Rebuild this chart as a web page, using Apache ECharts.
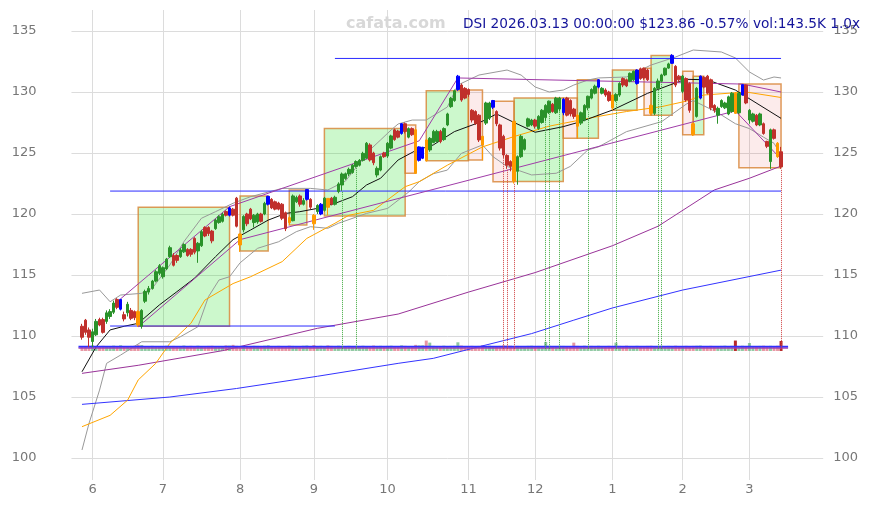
<!DOCTYPE html>
<html><head><meta charset="utf-8">
<script src="https://cdn.jsdelivr.net/npm/echarts@6/dist/echarts.min.js"></script>
<style>html,body{margin:0;padding:0;background:#fff}#c{width:873px;height:505px}</style>
</head><body><div id="c"></div>
<script>
// ---------- categories ----------
const startDate = '2025-05-28', endDate = '2026-03-13';
const holidays = ['2025-06-19','2025-07-04','2025-09-01','2025-11-27','2025-12-25','2026-01-01','2026-01-19','2026-02-16'];
const PAD_L = 3, PAD_R = 12;

// ---------- candles (index 0 = 2025-05-28) ----------
const opens = [
110.8,111.3,110.5,109.55,110.1,111.35,111.35,111.2,111.6,111.95,
113.0,112.2,111.75,111.9,112.1,112.0,112.0,110.8,112.85,113.6,
113.9,114.5,115.14,114.86,115.5,116.5,116.6,116.6,116.5,116.9,
117.1,117.1,118.0,116.97,117.4,118.9,118.9,118.6,118.8,119.3,
119.4,120.2,119.9,120.4,121.3,118.36,118.7,120.0,120.4,119.3,
119.35,120.0,120.0,120.8,121.2,121.0,120.9,120.8,120.1,119.7,
119.45,121.0,121.48,120.8,121.2,121.2,119.9,120.2,120.0,120.3,
121.28,121.3,120.8,121.84,122.38,122.9,123.28,123.4,123.9,124.0,
124.4,124.57,125.66,125.0,123.2,123.6,125.0,124.75,125.4,126.9,
126.8,126.6,127.4,126.3,127.0,126.9,124.4,124.57,126.07,125.25,
125.86,125.95,126.77,126.1,127.3,128.8,129.3,130.2,130.57,130.3,
130.2,128.5,128.4,128.1,126.37,127.45,127.86,128.75,128.4,127.3,
126.37,124.8,124.3,127.6,123.5,124.7,125.3,127.2,127.3,127.7,
127.0,127.5,127.9,128.3,129.0,128.3,128.6,128.3,129.5,129.3,
128.6,128.1,127.45,127.7,128.7,129.5,129.9,130.4,129.9,130.16,
130.0,129.75,129.3,129.75,131.1,131.0,130.88,131.0,130.7,131.9,
131.95,131.8,128.9,128.25,130.3,130.88,131.4,131.96,132.35,132.1,
131.3,130.05,131.1,130.7,127.4,128.0,129.5,131.2,131.3,131.0,
128.9,128.1,128.8,128.7,128.2,128.4,129.9,128.3,129.75,130.57,
127.7,127.6,128.1,127.3,127.4,125.95,124.3,126.9,125.8,125.1];
const closes = [
109.9,110.3,109.9,110.35,111.2,110.9,110.3,111.9,112.0,112.7,
112.35,113.0,111.4,112.6,111.45,111.5,110.9,112.1,113.65,113.9,
114.5,115.27,115.76,115.6,116.3,117.24,115.8,116.2,117.05,117.5,
116.6,116.7,116.87,117.6,118.55,118.2,118.4,117.8,119.5,119.78,
119.97,119.9,120.5,119.9,119.0,117.46,119.8,119.2,119.6,119.9,
120.0,119.4,120.87,121.45,120.5,120.4,120.4,119.65,118.8,119.3,
121.48,121.35,120.8,121.1,122.0,120.56,119.2,120.7,120.8,121.3,
120.55,120.8,121.37,122.46,123.28,123.3,123.66,124.0,124.3,124.4,
124.97,125.8,124.43,124.2,123.74,124.7,124.7,125.8,126.4,126.1,
126.3,127.4,126.76,127.0,126.5,123.34,125.5,125.47,124.37,126.2,
126.77,126.77,125.95,127.0,128.2,129.48,130.1,131.3,129.34,129.5,
129.8,127.7,127.4,126.07,125.66,129.1,129.1,129.3,127.4,125.4,
124.84,124.0,123.9,122.7,124.7,126.37,126.1,127.8,127.7,127.2,
128.0,128.5,128.9,129.25,128.4,129.5,129.5,129.4,128.1,128.2,
128.0,127.2,128.3,128.9,129.65,130.2,130.47,131.0,130.3,129.75,
129.3,128.7,129.8,130.7,130.57,130.5,131.53,131.7,131.8,131.1,
131.15,131.0,128.25,130.3,130.9,131.4,131.95,132.3,133.0,130.57,
131.0,131.3,129.34,128.5,126.5,130.3,131.3,130.4,129.9,128.7,
128.5,128.66,129.3,129.1,129.6,129.9,128.25,129.9,130.6,129.1,
128.5,128.2,127.3,128.2,126.6,125.55,126.9,126.2,124.7,123.86];
const highs = [
111.0,111.4,110.7,110.6,111.4,111.5,111.5,112.1,112.2,112.9,
113.1,113.05,112.0,112.8,112.3,112.1,112.1,112.2,113.8,114.1,
114.6,115.4,115.9,115.7,116.4,117.4,116.8,116.7,117.2,117.6,
117.2,117.2,118.1,117.7,118.7,119.0,119.0,118.7,119.6,119.9,
120.1,120.3,120.6,120.5,121.4,118.4,119.9,120.1,120.5,120.0,
120.1,120.1,121.0,121.5,121.3,121.1,121.0,120.9,120.2,119.8,
121.6,121.5,121.6,121.3,122.05,121.3,120.0,120.8,120.9,121.4,
121.3,121.4,121.5,122.6,123.4,123.4,123.8,124.1,124.4,124.5,
125.1,125.9,125.8,125.1,123.9,124.8,125.1,125.9,126.5,127.0,
126.9,127.45,127.5,127.1,127.1,127.0,125.55,125.5,126.1,126.3,
126.9,126.9,126.9,127.1,128.3,129.6,130.2,131.4,130.7,130.4,
130.3,128.6,128.5,128.2,126.4,129.2,129.2,129.35,128.5,127.4,
126.5,124.9,124.4,127.6,124.8,126.5,126.2,127.9,127.8,127.8,
128.1,128.6,129.0,129.3,129.1,129.6,129.6,129.5,129.6,129.4,
128.7,128.2,128.4,129.0,129.7,130.3,130.6,131.05,130.4,130.3,
130.1,129.8,129.9,130.8,131.2,131.1,131.6,131.75,131.85,132.0,
132.0,131.9,129.0,130.4,131.1,131.5,132.0,132.4,133.1,132.2,
131.4,131.4,131.2,130.8,127.5,130.4,131.35,131.3,131.4,131.1,
129.0,128.8,129.4,129.2,129.7,130.0,130.0,130.0,130.65,130.6,
128.6,128.3,128.2,128.3,127.5,126.0,127.0,127.0,125.9,125.5];
const lows = [
109.7,110.1,109.1,109.1,110.0,110.8,110.2,111.0,111.4,111.8,
112.2,112.1,111.2,111.6,111.3,111.3,110.75,110.6,112.7,113.4,
113.8,114.4,115.0,114.7,115.4,116.4,115.7,116.0,116.4,116.8,
116.5,116.5,116.7,116.0,117.3,118.1,118.2,117.6,118.7,119.2,
119.3,119.8,119.8,119.8,118.9,116.9,118.5,119.0,119.5,118.9,
119.2,119.3,119.9,120.7,120.4,120.3,120.3,119.5,118.6,119.1,
119.4,120.9,120.6,120.7,121.1,120.4,118.7,120.0,119.9,120.2,
119.9,120.7,120.7,121.7,121.9,122.8,123.1,123.3,123.8,123.9,
124.3,124.5,124.3,124.0,123.0,123.5,124.6,124.6,125.3,126.0,
126.2,126.5,126.6,126.2,126.4,123.3,124.3,124.5,124.3,125.1,
125.8,125.9,125.8,126.0,127.2,128.7,129.2,130.1,129.2,129.4,
129.6,127.5,127.3,125.9,124.4,127.3,127.7,128.6,127.2,125.2,
124.6,123.7,123.5,122.5,122.4,124.6,125.2,127.1,127.2,127.0,
126.9,127.4,127.6,128.2,128.3,128.2,128.4,128.1,128.0,128.0,
127.8,126.2,127.3,127.6,128.5,129.4,129.8,130.3,129.8,129.6,
129.2,128.5,129.2,129.6,130.4,130.4,130.8,130.9,130.6,131.0,
131.0,130.9,128.1,128.1,130.2,130.8,131.3,131.9,132.3,130.4,
130.8,129.9,129.2,128.3,126.4,127.9,129.4,130.3,129.8,128.5,
128.3,127.4,128.7,128.6,128.1,128.3,128.2,128.2,129.7,129.0,
127.4,127.5,127.2,127.2,126.5,125.4,123.7,126.1,124.6,123.7];
const volumes = [
72,68,75,80,66,70,74,69,71,77, 65,82,70,68,73,76,90,85,72,70,
74,69,71,68,75,70,73,66,72,78, 70,74,69,76,71,68,73,75,70,72,
69,80,77,88,74,70,72,68,71,75, 73,70,76,82,69,71,74,72,70,77,
73,68,71,75,79,72,84,70,74,69, 80,73,71,76,70,72,74,68,73,71,
75,70,72,78,69,74,71,73,76,70, 72,81,74,71,69,88,80,82,150,120,
74,70,72,76,71,73,75,125,78,72, 70,74,69,73,80,71,76,72,70,74,
82,78,75,71,73,69,72,74,76,70, 73,71,130,75,72,70,74,73,71,69,
120,74,72,76,70,73,71,75,72,70, 74,72,120,73,71,76,70,72,74,71,
69,73,75,72,70,74,71,73,72,76, 70,72,74,71,73,75,78,72,70,74,
72,71,73,76,70,74,150,72,75,71, 115,72,71,73,76,70,74,72,75,143.5];
const volStrong = [186, 199];
const blueIdx = [11,42,53,64,68,91,96,97,107,117,137,147,158,168,176,188];
const orangeIdx = [16,45,59,66,70,95,98,114,123,141,151,162,174,186,198];

// ---------- boxes: [startIdx, endIdx, low, high, kind] ----------
const boxes = [
[16,42,110.8,120.55,'g'],[45,53,116.97,121.47,'g'],[59,64,119.1,121.97,'g'],
[69,92,119.84,127.0,'g'],[92,95,123.34,127.3,'r'],[98,110,124.37,130.1,'g'],
[110,114,124.43,130.16,'r'],[117,123,122.65,129.25,'r'],[123,137,122.67,129.5,'g'],
[137,141,126.2,129.5,'r'],[141,147,126.2,131.0,'g'],[151,158,128.5,131.8,'g'],
[160,162,128.1,131.95,'r'],[162,168,128.1,133.0,'g'],[171,174,126.5,131.7,'r'],
[174,177,126.5,131.3,'g'],[187,199,123.8,130.65,'r']];

// ---------- horizontal levels: [fromIdx, toIdx, value] ----------
const blueLevels = [[72,199,132.75],[8,199,121.88],[8,72,110.82]];
const baseBlue = [-1,201,109.12];
const basePurple = [-1,201,109.0];

// ---------- purple pivot lines ----------
const upperPivots = [[11,113.05],[42,120.6],[96,126.0],[107,131.15],[188,130.65],[199,130.0]];
const lowerPivots = [[16,110.75],[45,117.9],[186,128.45],[199,124.5]];

// ---------- dotted signal lines ----------
const dotBase = 108.95;
const greenDots = [74,78,132,133,136,144,152,164,165];
const redDots = [120,121,123,199];

// ---------- moving averages / bands (read at sample days) ----------
const ma20 = [[0,107.07],[4,109.1],[8,110.5],[12,110.8],[16,111.04],[22,112.54],[27,113.63],[32,114.73],[38,116.5],[43,117.9],[48,118.69],[53,119.5],[58,120.05],[62,120.19],[67,120.46],[72,120.87],[77,121.42],[81,122.38],[85,122.93],[90,124.43],[95,125.2],[100,125.66],[106,126.75],[114,127.6],[118,128.2],[123,127.5],[129,126.7],[137,127.16],[142,127.57],[151,128.52],[161,129.89],[170,130.86],[172,131.04],[178,131.0],[186,130.16],[199,127.84]];
const ma50 = [[0,102.57],[8,103.5],[13,104.75],[16,106.4],[21,107.76],[25,109.4],[31,111.04],[35,112.95],[43,114.3],[48,114.86],[57,116.1],[64,118.0],[72,119.24],[76,119.9],[83,120.3],[92,122.24],[96,122.65],[104,124.0],[114,125.5],[123,126.35],[133,127.2],[147,128.0],[155,128.4],[165,128.8],[172,129.25],[177,129.75],[189,130.0],[199,129.55]];
const maLong = [[0,106.94],[16,107.6],[40,108.8],[67,110.63],[90,111.8],[110,113.6],[129,115.2],[151,117.4],[164,119.0],[180,121.97],[190,122.93],[199,123.93]];
const maLonger = [[0,104.4],[25,105.0],[44,105.7],[67,106.7],[90,107.76],[100,108.17],[113,109.12],[128,110.2],[140,111.3],[151,112.3],[171,113.77],[199,115.4]];
const bbUpper = [[0,113.5],[5,113.77],[8,112.81],[11,113.36],[17,113.5],[20,113.91],[25,115.82],[29,117.73],[34,119.65],[38,120.19],[43,120.88],[48,121.42],[57,122.1],[65,122.1],[70,121.97],[75,122.7],[78,123.8],[81,125.0],[85,126.07],[88,126.89],[90,127.38],[94,127.7],[98,127.7],[104,128.77],[107,130.57],[113,131.39],[121,131.8],[125,131.39],[129,130.41],[133,130.0],[137,130.16],[140,130.57],[144,130.98],[147,131.15],[155,131.23],[162,132.21],[169,132.87],[174,133.44],[182,133.28],[186,132.79],[190,131.64],[194,130.98],[197,131.23],[199,131.15]];
const bbLower = [[0,100.66],[2,102.84],[5,105.57],[7,107.76],[11,108.44],[17,109.53],[25,109.53],[28,109.94],[33,110.76],[36,113.22],[39,114.59],[42,114.86],[45,116.0],[50,117.19],[56,117.73],[61,118.55],[65,118.96],[70,118.83],[73,119.24],[81,120.05],[87,120.46],[93,121.8],[96,122.65],[100,123.3],[104,123.6],[108,124.97],[114,125.66],[117,124.7],[121,123.9],[128,123.2],[135,123.34],[139,123.9],[144,125.25],[147,125.5],[155,126.75],[165,127.57],[172,129.0],[174,129.3],[181,128.3],[186,127.4],[190,127.0],[194,126.3],[197,125.8],[199,124.84]];

const yTicks = [100,105,110,115,120,125,130,135];
const TITLE = 'DSI 2026.03.13 00:00:00 $123.86 -0.57% vol:143.5K 1.0x';

// ---------- build ----------
function tradingDays(s, e) {
  const out = [], hs = new Set(holidays);
  let d = new Date(s + 'T00:00:00Z'); const end = new Date(e + 'T00:00:00Z');
  while (d <= end) {
    const wd = d.getUTCDay(), iso = d.toISOString().slice(0, 10);
    if (wd !== 0 && wd !== 6 && !hs.has(iso)) out.push(iso);
    d = new Date(d.getTime() + 86400000);
  }
  return out;
}
const dates = tradingDays(startDate, endDate);
const cats = [];
for (let i = 0; i < PAD_L; i++) cats.push('pL' + i);
dates.forEach(d => cats.push(d));
for (let i = 0; i < PAD_R; i++) cats.push('pR' + i);
const X = i => i + PAD_L;
const monthStart = new Set();
dates.forEach((d, i) => { if (i > 0 && d.slice(5, 7) !== dates[i - 1].slice(5, 7)) monthStart.add(X(i)); });

const UP = '#2a922a', DOWN = '#c0302c', BLUE = '#0000ff', ORANGE = '#ff9a00';
const candleData = [], volData = [];
for (let k = 0; k < cats.length; k++) {
  const i = k - PAD_L;
  if (i < 0 || i >= opens.length) { candleData.push('-'); volData.push('-'); continue; }
  const it = { value: [opens[i], closes[i], lows[i], highs[i]] };
  const sc = blueIdx.includes(i) ? BLUE : (orangeIdx.includes(i) ? ORANGE : null);
  if (sc) it.itemStyle = { color: sc, color0: sc, borderColor: sc, borderColor0: sc };
  candleData.push(it);
  const up = closes[i] >= opens[i];
  const strong = volStrong.includes(i);
  volData.push({ value: volumes[i], itemStyle: { color: strong ? (up ? '#2e8b2e' : '#b82828') : (up ? 'rgba(70,165,100,0.6)' : 'rgba(215,80,100,0.6)') } });
}
const pts = a => a.map(([i, v]) => [X(i), v]);
function lineS(data, color, width, z) {
  return { type: 'line', data, symbol: 'none', showSymbol: false, silent: true, z: z || 3,
    lineStyle: { color, width: width || 1 }, emphasis: { disabled: true }, animation: false };
}
const series = [];
// boxes
series.push({ type: 'line', data: [], z: 1, silent: true,
  markArea: { silent: true, data: boxes.map(([a, b, lo, hi, t]) => [
    { coord: [X(a), hi], itemStyle: { color: t === 'g' ? 'rgba(0,220,0,0.2)' : 'rgba(220,0,0,0.08)', borderColor: 'rgba(215,130,50,0.8)', borderWidth: 1.5 } },
    { coord: [X(b), lo] }]) } });
// dotted signals
series.push({ type: 'line', data: [], z: 2, silent: true,
  markLine: { silent: true, symbol: ['none', 'none'], label: { show: false }, animation: false,
    data: greenDots.map(i => [{ coord: [X(i), dotBase], lineStyle: { color: '#3daa3d', type: 'dotted', width: 1 } }, { coord: [X(i), lows[i]] }])
      .concat(redDots.map(i => [{ coord: [X(i), dotBase], lineStyle: { color: '#d04040', type: 'dotted', width: 1 } }, { coord: [X(i), lows[i]] }])) } });
// volume
series.push({ type: 'bar', data: volData, yAxisIndex: 2, barWidth: 3, z: 3, silent: true, animation: false });
// bands and MAs
series.push(lineS(pts(bbUpper), '#999999', 1, 3));
series.push(lineS(pts(bbLower), '#999999', 1, 3));
series.push(lineS(pts(maLonger), '#3333ff', 1, 3));
series.push(lineS(pts(maLong), '#993399', 1, 3));
series.push(lineS(pts(ma50), '#ffa500', 1, 3));
series.push(lineS(pts(ma20), '#111111', 1, 3));
// levels
blueLevels.forEach(([a, b, v]) => series.push(lineS([[X(a), v], [X(b), v]], '#2b2bff', 1, 4)));
series.push(lineS([[X(baseBlue[0]), baseBlue[2]], [X(baseBlue[1]), baseBlue[2]]], '#3030ff', 2, 4));
series.push(lineS([[X(basePurple[0]), basePurple[2]], [X(basePurple[1]), basePurple[2]]], '#a040b0', 1.2, 4));
series.push(lineS(pts(upperPivots), '#a03ca8', 1, 4));
series.push(lineS(pts(lowerPivots), '#a03ca8', 1, 4));
// candles
series.push({ type: 'candlestick', data: candleData, barWidth: 3, z: 6, silent: true, animation: false,
  itemStyle: { color: UP, color0: DOWN, borderColor: UP, borderColor0: DOWN, borderWidth: 1 } });

const GRID_L = 71.46, GRID_R = 49.8;
const yMin = 98.2, yMax = 136.72;
const labelFont = { color: '#777', fontSize: 13, fontFamily: 'DejaVu Sans' };
const chart = echarts.init(document.getElementById('c'), null, { renderer: 'canvas' });
chart.setOption({
  animation: false,
  backgroundColor: '#fff',
  grid: { left: GRID_L, right: GRID_R, top: 10, bottom: 25, containLabel: false },
  xAxis: {
    type: 'category', data: cats, boundaryGap: false,
    axisLine: { show: false }, axisTick: { show: false },
    axisLabel: Object.assign({ margin: 3, interval: (idx) => monthStart.has(idx),
      formatter: v => (/^\d{4}-/.test(v) ? String(+v.slice(5, 7)) : '') }, labelFont),
    splitLine: { show: true, interval: (idx) => monthStart.has(idx), lineStyle: { color: '#dcdcdc', width: 1 } }
  },
  yAxis: [
    { type: 'value', position: 'left', min: yMin, max: yMax, scale: true,
      axisLine: { show: false }, axisTick: { show: false, customValues: yTicks },
      axisLabel: Object.assign({ customValues: yTicks, margin: 35 }, labelFont),
      splitLine: { show: true, lineStyle: { color: '#dcdcdc', width: 1 } } },
    { type: 'value', position: 'right', min: yMin, max: yMax, scale: true,
      axisLine: { show: false }, axisTick: { show: false, customValues: yTicks },
      axisLabel: Object.assign({ customValues: yTicks, margin: 10 }, labelFont),
      splitLine: { show: false } },
    { type: 'value', show: false, min: -1858, max: 4910, splitLine: { show: false } }
  ],
  graphic: [
    { type: 'text', left: 346, top: 16, silent: true, z: 10,
      style: { text: 'cafata.com', fill: '#d8d8d8', font: 'bold 16px "DejaVu Sans"' } },
    { type: 'text', left: 463, top: 17, silent: true, z: 10,
      style: { text: TITLE, fill: '#14149a', font: '13.7px "DejaVu Sans"' } }
  ],
  series
});
</script></body></html>
